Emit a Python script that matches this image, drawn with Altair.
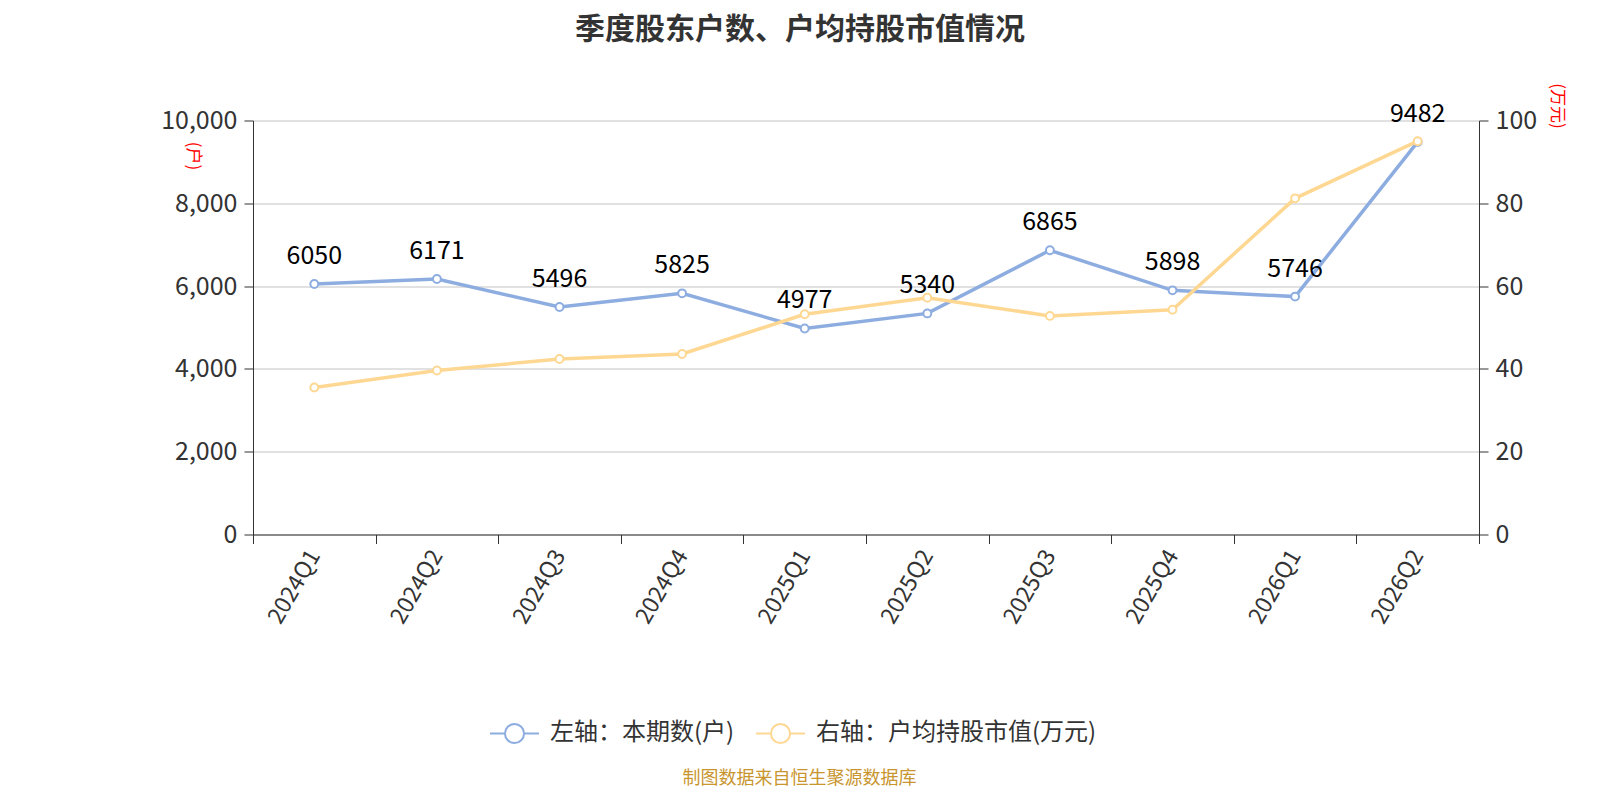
import altair as alt
import pandas as pd

quarters = ["2024Q1", "2024Q2", "2024Q3", "2024Q4", "2025Q1", "2025Q2", "2025Q3", "2025Q4", "2026Q1", "2026Q2"]
holders = [6050, 6171, 5496, 5825, 4977, 5340, 6865, 5898, 5746, 9482]
avg_value = [35.5, 39.6, 42.4, 43.6, 53.2, 57.2, 52.8, 54.3, 81.2, 95.0]
series_names = ["左轴：本期数(户)", "右轴：户均持股市值(万元)"]
colors = ["#8dade0", "#fed893"]

FONT = "Noto Sans CJK SC"

df_left = pd.DataFrame({"q": quarters, "v": holders, "s": series_names[0]})
df_right = pd.DataFrame({"q": quarters, "v": avg_value, "s": series_names[1]})

legend_path = "M-1,0L-0.39,0M0.39,0L1,0M0.39,0A0.39,0.39,0,1,1,-0.39,0A0.39,0.39,0,1,1,0.39,0"

x_enc = alt.X(
    "q:N",
    sort=quarters,
    scale=alt.Scale(type="band", paddingInner=0, paddingOuter=0),
    bandPosition=0.5,
    axis=alt.Axis(
        title="制图数据来自恒生聚源数据库",
        titleFontSize=18,
        titleFontWeight="normal",
        titleColor="#c8952f",
        titleFont=FONT,
        titleX=546,
        titleY=244,
        titleAlign="center",
        titleBaseline="middle",
        labelAngle=-60,
        labelAlign="right",
        labelBaseline="middle",
        labelFontSize=23,
        labelColor="#333333",
        labelFont=FONT,
        labelPadding=8,
        tickBand="extent",
        tickSize=9,
        tickColor="#333333",
        domainColor="#333333",
        grid=False,
    ),
)

color_enc = alt.Color(
    "s:N",
    scale=alt.Scale(domain=series_names, range=colors),
    legend=alt.Legend(
        title=None,
        orient="none",
        direction="horizontal",
        legendX=236,
        legendY=587,
        symbolType=legend_path,
        symbolSize=2401,
        symbolStrokeWidth=2,
        symbolFillColor="white",
        labelFontSize=24,
        labelColor="#333333",
        labelFont=FONT,
        labelOffset=10,
        labelLimit=600,
        columnPadding=17,
        padding=0,
    ),
)

y_left = alt.Y(
    "v:Q",
    scale=alt.Scale(domain=[0, 10000]),
    axis=alt.Axis(
        title="(户)",
        titleColor="red",
        titleFontSize=17,
        titleFontWeight="normal",
        titleFont=FONT,
        titleAngle=90,
        titleX=-61,
        titleY=35,
        titleAlign="center",
        titleBaseline="middle",
        values=[0, 2000, 4000, 6000, 8000, 10000],
        labelExpr="format(datum.value, ',')",
        labelFontSize=25,
        labelColor="#333333",
        labelFont=FONT,
        labelPadding=7,
        tickSize=9,
        tickColor="#333333",
        domainColor="#333333",
        grid=True,
        gridColor="#c4c4c4",
        gridWidth=1.2,
    ),
)

y_right = alt.Y(
    "v:Q",
    scale=alt.Scale(domain=[0, 100]),
    axis=alt.Axis(
        orient="right",
        title="(万元)",
        titleColor="red",
        titleFontSize=17,
        titleFontWeight="normal",
        titleFont=FONT,
        titleAngle=90,
        titleX=77,
        titleY=-15,
        titleAlign="center",
        titleBaseline="middle",
        values=[0, 20, 40, 60, 80, 100],
        labelFontSize=25,
        labelColor="#333333",
        labelFont=FONT,
        labelPadding=7,
        tickSize=9,
        tickColor="#333333",
        domainColor="#333333",
        grid=False,
    ),
)

base_l = alt.Chart(df_left).encode(x=x_enc, y=y_left, color=color_enc)
left = alt.layer(
    base_l.mark_line(strokeWidth=3.5),
    base_l.mark_point(filled=False, fill="white", fillOpacity=1, size=62, strokeWidth=2, opacity=1),
    base_l.mark_text(dy=-20, baseline="alphabetic", fontSize=25, font=FONT, color="#000000").encode(
        text="v:Q", color=alt.value("#000000")
    ),
)

base_r = alt.Chart(df_right).encode(x=x_enc, y=y_right, color=color_enc)
right = alt.layer(
    base_r.mark_line(strokeWidth=3.5),
    base_r.mark_point(filled=False, fill="white", fillOpacity=1, size=62, strokeWidth=2, opacity=1),
)

chart = (
    alt.layer(left, right)
    .resolve_scale(y="independent")
    .properties(
        width=1226,
        height=414,
        autosize=alt.AutoSizeParams(type="none"),
        padding={"left": 245, "top": 112.5, "right": 113, "bottom": 257.5},
        title=alt.TitleParams(
            "季度股东户数、户均持股市值情况",
            fontSize=30,
            font=FONT,
            fontWeight="bold",
            color="#333333",
            frame="group",
            anchor="middle",
            dx=-66,
            offset=38,
        ),
    )
    .configure_view(stroke=None)
)

chart.save("out.html", embed_options={"renderer": "svg", "actions": False})
